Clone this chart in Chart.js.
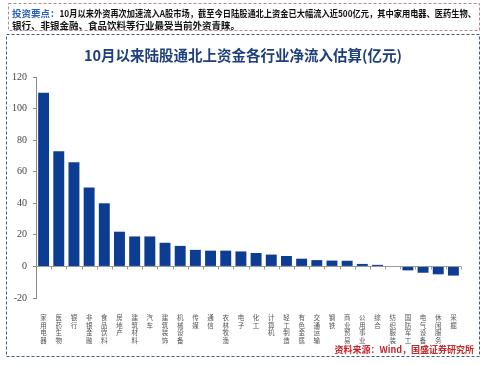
<!DOCTYPE html>
<html>
<head>
<meta charset="utf-8">
<script src="https://cdn.jsdelivr.net/npm/chart.js@4"></script>
<style>
  body { margin: 0; background: #fff; }
  canvas { display: block; }
</style>
</head>
<body>
<canvas id="chart" width="487" height="365"></canvas>
<script>
// industries, left to right
let industries = ['家用电器', '医药生物', '银行', '非银金融', '食品饮料', '房地产', '建筑材料', '汽车',
    '建筑装饰', '机械设备', '传媒', '通信', '农林牧渔', '电子', '化工', '计算机', '轻工制造',
    '有色金属', '交通运输', '钢铁', '商业贸易', '公用事业', '综合', '纺织服装', '国防军工',
    '电气设备', '休闲服务', '采掘'];
// net inflow, 亿元
let inflows = [110, 73, 66, 50, 40, 22, 19, 19, 15, 13, 10.5, 10, 10, 9.5, 8.5, 7.5, 6.6,
    4.9, 4.0, 3.7, 3.6, 1.6, 1.0, 0.3, -2.5, -4.0, -5.0, -5.8];
let yTicks = [120, 100, 80, 60, 40, 20, 0, -20];

let titleText = '10月以来陆股通北上资金各行业净流入估算(亿元)';
let noteHead = '投资要点：';
let noteLine1 = '10月以来外资再次加速流入A股市场，截至今日陆股通北上资金已大幅流入近500亿元，其中家用电器、医药生物、';
let noteLine2 = '银行、非银金融、食品饮料等行业最受当前外资青睐。';
let sourceText = '资料来源：Wind，国盛证券研究所';

const cjk = '"Noto Sans CJK SC", "Noto Sans", sans-serif';

// draws the frames, notes, title and the zero line
const decorPlugin = {
    id: 'decor',
    afterDraw(chart) {
        const ctx = chart.ctx;
        const area = chart.chartArea;
        const y = chart.scales.y;
        ctx.save();

        // dashed frames
        ctx.lineWidth = 1;
        ctx.setLineDash([3, 2]);
        ctx.strokeStyle = '#b08a96';
        ctx.strokeRect(8.5, 3.5, 471, 27);
        ctx.strokeStyle = '#3e5a86';
        ctx.strokeRect(6.5, 34.5, 473, 322);
        ctx.setLineDash([]);

        // notes
        ctx.textBaseline = 'middle';
        ctx.textAlign = 'left';
        ctx.font = 'bold 9.5px ' + cjk;
        ctx.fillStyle = '#2a62b8';
        ctx.fillText(noteHead, 12, 13);
        let w = ctx.measureText(noteHead).width;
        ctx.fillStyle = '#111';
        ctx.fillText(noteLine1, 12 + w, 13, 464 - w);
        ctx.fillText(noteLine2, 12, 25);

        // title
        ctx.textAlign = 'center';
        ctx.font = 'bold 14.5px ' + cjk;
        ctx.fillStyle = '#1d3f7c';
        ctx.fillText(titleText, 243, 55);

        // zero line with category ticks
        const y0 = Math.round(y.getPixelForValue(0)) + 0.5;
        ctx.strokeStyle = '#9a9a9a';
        ctx.beginPath();
        ctx.moveTo(area.left, y0);
        ctx.lineTo(area.right, y0);
        const step = (area.right - area.left) / industries.length;
        for (let i = 1; i <= industries.length; i++) {
            const x = Math.round(area.left + i * step) + 0.5;
            ctx.moveTo(x, y0);
            ctx.lineTo(x, y0 + 3);
        }
        ctx.stroke();

        // source
        ctx.textAlign = 'right';
        ctx.font = 'bold 9px ' + cjk;
        ctx.fillStyle = '#c0282e';
        ctx.fillText(sourceText, 474, 350);

        ctx.restore();
    }
};

new Chart(document.getElementById('chart'), {
    type: 'bar',
    data: {
        labels: industries.map(s => s.split('')),
        datasets: [{
            data: inflows,
            backgroundColor: '#0c3d92',
            barPercentage: 0.72,
            categoryPercentage: 1
        }]
    },
    options: {
        responsive: false,
        animation: false,
        layout: { padding: { top: 77, right: 26, bottom: 7, left: 0 } },
        plugins: {
            legend: { display: false },
            tooltip: { enabled: false }
        },
        scales: {
            x: {
                grid: { display: false },
                border: { display: false },
                ticks: {
                    autoSkip: false,
                    maxRotation: 0,
                    minRotation: 0,
                    padding: 8,
                    color: '#555',
                    font: { family: cjk, size: 6.5, lineHeight: 1.17 }
                },
                afterFit(scale) { scale.height = 60; }
            },
            y: {
                min: -20,
                max: 120,
                afterBuildTicks(scale) { scale.ticks = yTicks.map(v => ({ value: v })); },
                grid: { display: true, drawOnChartArea: false, drawTicks: true, tickLength: 3, color: '#888' },
                border: { display: true, color: '#888' },
                ticks: {
                    padding: 6,
                    color: '#444',
                    font: { family: '"Liberation Serif", serif', size: 10 }
                },
                afterFit(scale) { scale.width = 36; }
            }
        }
    },
    plugins: [decorPlugin]
});
</script>
</body>
</html>
